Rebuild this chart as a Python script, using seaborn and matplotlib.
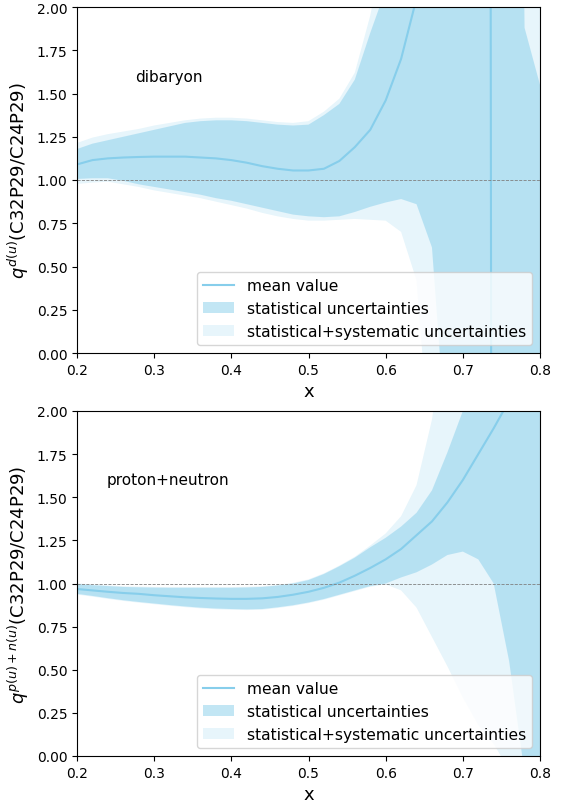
import numpy as np
import pandas as pd
import matplotlib
matplotlib.use("Agg")
import matplotlib.pyplot as plt
import seaborn as sns
from matplotlib.lines import Line2D
from matplotlib.patches import Patch

x = [0.20, 0.22, 0.24, 0.26, 0.28, 0.30, 0.32, 0.34, 0.36, 0.38, 0.40,
     0.42, 0.44, 0.46, 0.48, 0.50, 0.52, 0.54, 0.56, 0.58, 0.60,
     0.62, 0.64, 0.66, 0.68, 0.70, 0.72, 0.74, 0.76, 0.78, 0.80]

# --- dibaryon panel ---
dib_mean = [1.09, 1.115, 1.125, 1.13, 1.133, 1.135, 1.135, 1.135, 1.13, 1.125, 1.115,
            1.10, 1.08, 1.065, 1.055, 1.055, 1.065, 1.11, 1.19, 1.29, 1.46,
            1.70, 2.05, 2.6, 3.5, 5.0, 60.0, -12.0, -5.0, -3.0, -2.0]
dib_stat_hi = [1.179, 1.21, 1.23, 1.25, 1.27, 1.29, 1.31, 1.33, 1.34, 1.345, 1.345,
               1.34, 1.33, 1.32, 1.315, 1.32, 1.375, 1.44, 1.58, 1.85, 2.1,
               2.6, 3.0, 4.0, 6.0, 8.0, 10.0, 10.0, 10.0, 1.88, 1.55]
dib_stat_lo = [1.006, 1.01, 1.01, 0.995, 0.975, 0.96, 0.945, 0.93, 0.915, 0.895, 0.88,
               0.86, 0.84, 0.82, 0.80, 0.79, 0.785, 0.79, 0.815, 0.845, 0.87,
               0.89, 0.86, 0.61, -0.6, -5.0, -5.0, -5.0, -5.0, -5.0, -5.0]
dib_sys_hi = [1.214, 1.245, 1.265, 1.28, 1.295, 1.315, 1.33, 1.345, 1.355, 1.36, 1.36,
              1.355, 1.345, 1.335, 1.33, 1.34, 1.395, 1.47, 1.62, 1.95, 2.4,
              3.0, 4.0, 5.0, 6.0, 8.0, 10.0, 10.0, 10.0, 10.0, 10.0]
dib_sys_lo = [0.977, 0.985, 0.99, 0.975, 0.96, 0.94, 0.925, 0.91, 0.895, 0.875, 0.855,
              0.835, 0.81, 0.79, 0.775, 0.765, 0.765, 0.77, 0.775, 0.77, 0.765,
              0.70, 0.42, -0.7, -5.0, -5.0, -5.0, -5.0, -5.0, -5.0, -5.0]

# --- proton+neutron panel ---
pn_mean = [0.968, 0.96, 0.952, 0.945, 0.94, 0.932, 0.926, 0.92, 0.916, 0.913, 0.911,
           0.911, 0.914, 0.922, 0.935, 0.952, 0.975, 1.005, 1.045, 1.09, 1.14,
           1.20, 1.28, 1.36, 1.47, 1.60, 1.75, 1.90, 2.06, 2.25, 2.45]
pn_stat_hi = [0.997, 0.99, 0.985, 0.98, 0.978, 0.976, 0.975, 0.975, 0.975, 0.975, 0.975,
              0.977, 0.98, 0.988, 1.0, 1.02, 1.055, 1.10, 1.15, 1.21, 1.265,
              1.33, 1.41, 1.54, 1.76, 2.0, 2.3, 3.0, 4.0, 5.0, 6.0]
pn_stat_lo = [0.94, 0.928, 0.915, 0.903, 0.893, 0.884, 0.875, 0.867, 0.86, 0.855, 0.852,
              0.85, 0.852, 0.862, 0.874, 0.89, 0.91, 0.935, 0.96, 0.985, 1.0,
              1.035, 1.065, 1.11, 1.165, 1.185, 1.14, 1.0, 0.55, -0.1, -2.0]
pn_sys_hi = [1.001, 0.994, 0.989, 0.984, 0.982, 0.980, 0.979, 0.979, 0.979, 0.979, 0.979,
             0.981, 0.984, 0.992, 1.004, 1.024, 1.059, 1.104, 1.155, 1.22, 1.29,
             1.39, 1.57, 1.95, 2.6, 3.5, 4.5, 5.0, 6.0, 7.0, 8.0]
pn_sys_lo = [0.936, 0.924, 0.911, 0.899, 0.889, 0.880, 0.871, 0.863, 0.856, 0.851, 0.848,
             0.846, 0.848, 0.858, 0.870, 0.886, 0.906, 0.931, 0.956, 0.981, 0.995,
             0.96, 0.86, 0.69, 0.52, 0.34, 0.18, 0.07, -0.08, -1.0, -2.0]

yticks = [0.0, 0.25, 0.5, 0.75, 1.0, 1.25, 1.5, 1.75, 2.0]
xticks = [0.2, 0.3, 0.4, 0.5, 0.6, 0.7, 0.8]

panels = [
    dict(mean=dib_mean, shi=dib_stat_hi, slo=dib_stat_lo, yhi=dib_sys_hi, ylo=dib_sys_lo,
         label=r'$q^{d(u)}$(C32P29/C24P29)', text='dibaryon', tx=0.275),
    dict(mean=pn_mean, shi=pn_stat_hi, slo=pn_stat_lo, yhi=pn_sys_hi, ylo=pn_sys_lo,
         label=r'$q^{p(u)+n(u)}$(C32P29/C24P29)', text='proton+neutron', tx=0.238),
]

fig = plt.figure(figsize=(5.7, 8.04), dpi=100)
rects = [[77/570, 1-354/804, 463/570, 346/804],
         [77/570, 1-757/804, 463/570, 345/804]]
color = 'skyblue'

for rect, p in zip(rects, panels):
    ax = fig.add_axes(rect)
    df = pd.DataFrame({'x': x, 'mean': p['mean']})
    ax.fill_between(x, p['ylo'], p['yhi'], color=color, alpha=0.2, linewidth=0)
    ax.fill_between(x, p['slo'], p['shi'], color=color, alpha=0.5, linewidth=0)
    sns.lineplot(data=df, x='x', y='mean', ax=ax, color=color, linewidth=1.5,
                 estimator=None, sort=False)
    ax.axhline(1.0, color='grey', linestyle='--', linewidth=0.6)
    ax.set_xlim(0.2, 0.8)
    ax.set_ylim(0.0, 2.0)
    ax.set_xticks(xticks)
    ax.set_xticklabels([f'{t:.1f}' for t in xticks])
    ax.set_yticks(yticks)
    ax.set_yticklabels([f'{t:.2f}' for t in yticks])
    ax.set_xlabel('x', fontsize=13)
    ax.set_ylabel(p['label'], fontsize=13)
    ax.text(p['tx'], 1.6, p['text'], fontsize=11, va='center', ha='left')
    handles = [Line2D([0], [0], color=color, linewidth=1.5),
               Patch(facecolor=color, alpha=0.5, edgecolor='none'),
               Patch(facecolor=color, alpha=0.2, edgecolor='none')]
    ax.legend(handles, ['mean value', 'statistical uncertainties',
                        'statistical+systematic uncertainties'],
              loc='lower right', fontsize=11.2)

fig.savefig('out.png', dpi=100)
